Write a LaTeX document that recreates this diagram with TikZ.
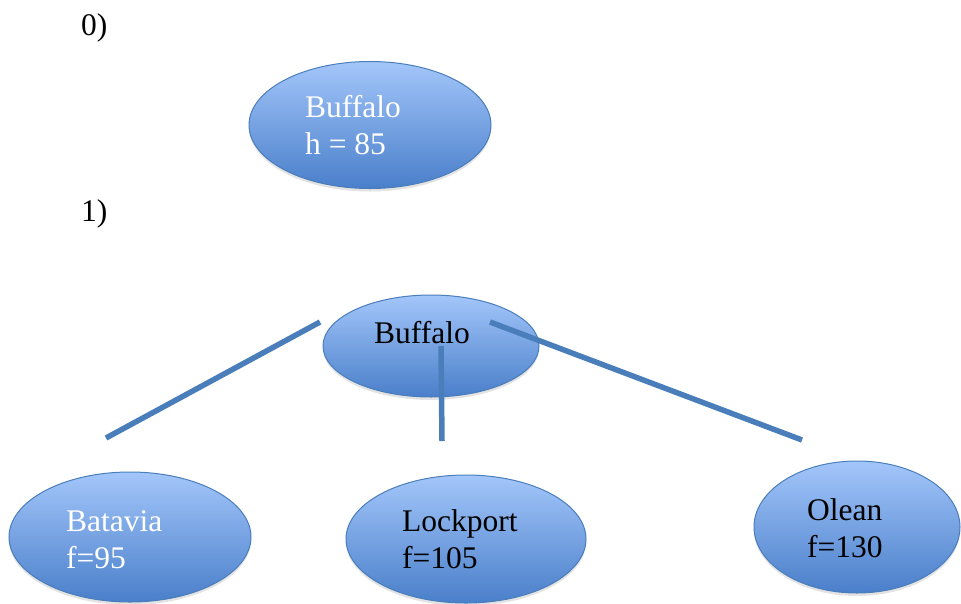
\documentclass[tikz,border=0pt]{standalone}
\usepackage{fontspec}
\setmainfont{Liberation Serif}
\usetikzlibrary{shapes.geometric,shadows}
\definecolor{edgeblue}{HTML}{4A7EBB}
\definecolor{shadetop}{HTML}{A3C6FA}
\definecolor{shademid}{HTML}{8CB3EE}
\definecolor{shadebot}{HTML}{4A7FCA}
\tikzset{
  city/.style={ellipse, draw=edgeblue, line width=1pt, inner sep=0pt,
    top color=shadetop, middle color=shademid, bottom color=shadebot,
    drop shadow={opacity=0.22, shadow xshift=0pt, shadow yshift=-3pt}},
  label/.style={anchor=base west, inner sep=0pt, align=left,
    font=\fontsize{31.5}{37}\selectfont},
  branch/.style={draw=edgeblue, line width=5.5pt}
}
\begin{document}
\begin{tikzpicture}[x=1pt,y=-1pt]
\useasboundingbox (0,0) rectangle (961,603);
% step labels
\node[label] (s0) at (81,35) {0)};
\node[label] (s1) at (81,221) {1)};
% step 0: the start node
\node[city, minimum width=242pt, minimum height=127pt] (root0) at (370,125) {};
\node[label, text=white] (root0t) at (305,154) {Buffalo\\h = 85};
% step 1: expanded tree
\node[city, minimum width=216pt, minimum height=102pt] (root1) at (431,346) {};
\node[label] (root1t) at (374,343) {Buffalo};
\node[city, minimum width=242pt, minimum height=130pt] (bat) at (130,537) {};
\node[label, text=white] (batt) at (66,568) {Batavia\\f=95};
\node[city, minimum width=240pt, minimum height=128pt] (lock) at (466,539) {};
\node[label] (lockt) at (402,568) {Lockport\\f=105};
\node[city, minimum width=206pt, minimum height=132pt] (ole) at (857,527) {};
\node[label] (olet) at (807,557) {Olean\\f=130};
% branch ends
\coordinate (bl0) at (320,322);
\coordinate (bl1) at (106,438);
\coordinate (bm0) at (441,346);
\coordinate (bm1) at (442,441);
\coordinate (br0) at (490,322);
\coordinate (br1) at (802,440);
\draw[branch] (bl0) -- (bl1);
\draw[branch] (bm0) -- (bm1);
\draw[branch] (br0) -- (br1);
\end{tikzpicture}
\end{document}
